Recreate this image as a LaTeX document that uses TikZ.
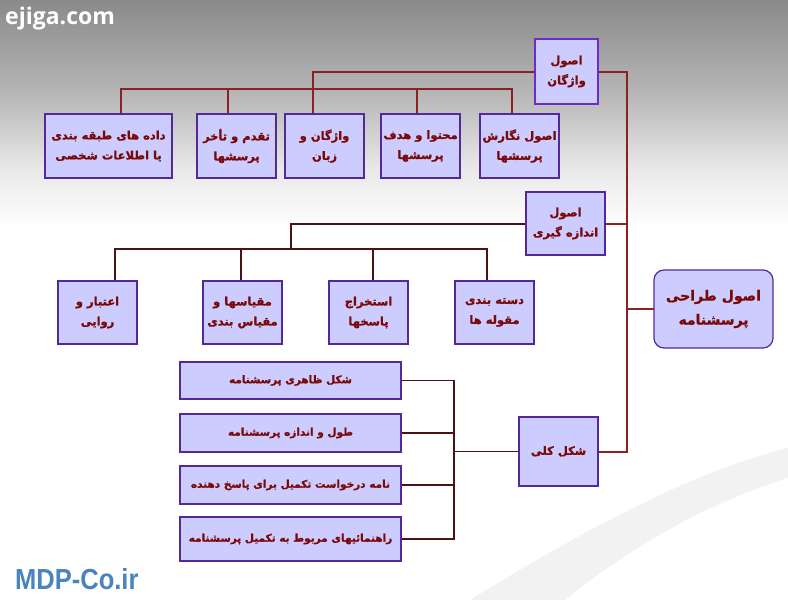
\documentclass[tikz,border=0pt]{standalone}
\usepackage{fontspec}
\usetikzlibrary{positioning,calc,backgrounds}
\newfontfamily\farsi[Script=Arabic, BoldFeatures={FakeBold=1.2}]{DejaVu Sans}
\newfontfamily\wmfont{Open Sans}
\newfontfamily\mdpfont{Liberation Sans}
\TeXXeTstate=1
\newcommand{\fa}[1]{\beginR #1\endR}
\definecolor{boxfill}{HTML}{CCCCFF}
\definecolor{boxline}{HTML}{55289A}
\definecolor{headline}{HTML}{6A2BD0}
\definecolor{txtred}{HTML}{7A0A0A}
\definecolor{linkred}{HTML}{8B2222}
\definecolor{linkdark}{HTML}{4A1414}
\definecolor{mdpblue}{HTML}{4A84BE}
\pgfdeclareverticalshading{bgshade}{100bp}{color(0bp)=(white); color(56bp)=(white); color(61bp)=(black!9); color(67bp)=(black!28); color(75bp)=(black!46); color(100bp)=(black!46)}

\begin{document}
\begin{tikzpicture}[x=1pt, y=-1pt,
  box/.style={draw=boxline, line width=1.8pt, fill=boxfill, text=txtred, align=center, inner sep=0pt,
    font=\farsi\bfseries\fontsize{11.5}{20}\selectfont, minimum width=79pt, minimum height=64pt},
  headbox/.style={box, draw=headline, line width=2.8pt, minimum width=63pt, minimum height=65pt},
  widebox/.style={box, minimum width=221pt, font=\farsi\bfseries\fontsize{10.5}{18}\selectfont},
  titlebox/.style={box, line width=1.2pt, rounded corners=10pt, minimum width=119pt, minimum height=78pt,
    font=\farsi\bfseries\fontsize{14}{24}\selectfont},
  link/.style={draw=linkred, line width=2pt, line cap=rect},
  dlink/.style={link, draw=linkdark},
  thinlink/.style={link, draw=linkdark, line width=1.6pt}]

  \useasboundingbox (0,0) rectangle (788,600);

  % top group
  \node[headbox] (vaj) at (566.5,71.5) {\fa{اصول}\\\fa{واژگان}};
  \node[box, minimum width=127pt] (dA) at (108.5,146) {\fa{داده های طبقه بندی}\\\fa{یا  اطلاعات شخصی}};
  \node[box] (dB) at (236.5,146) {\fa{تقدم و تأخر}\\\fa{پرسشها}};
  \node[box] (dC) at (324.5,146) {\fa{واژگان و}\\\fa{زبان}};
  \node[box] (dD) at (420.5,146) {\fa{محتوا و هدف}\\\fa{پرسشها}};
  \node[box] (dE) at (519.5,146) {\fa{اصول نگارش}\\\fa{پرسشها}};

  % measurement group
  \node[box, minimum height=63pt] (andaz) at (565.5,223.5) {\fa{اصول}\\\fa{اندازه گیری}};
  \node[box, minimum height=63pt] (r1) at (97.5,312.5) {\fa{اعتبار و}\\\fa{روایی}};
  \node[box, minimum height=63pt] (r2) at (242.5,312.5) {\fa{مقیاسها و}\\\fa{مقیاس بندی}};
  \node[box, minimum height=63pt] (r3) at (368.5,312.5) {\fa{استخراج}\\\fa{پاسخها}};
  \node[box, minimum height=63pt] (r4) at (494.5,312.5) {\fa{دسته بندی}\\\fa{مقوله ها}};

  \node[titlebox] (title) at (713.5,309) {\fa{اصول طراحی}\\\fa{پرسشنامه}};

  % form group
  \node[box, minimum height=69pt] (kolli) at (558.5,451.5) {\fa{شکل کلی}};
  \node[widebox, minimum height=37pt] (L1) at (290.5,380.5) {\fa{شکل ظاهری پرسشنامه}};
  \node[widebox, minimum height=38pt] (L2) at (290.5,433) {\fa{طول و اندازه پرسشنامه}};
  \node[widebox, minimum height=38pt] (L3) at (290.5,485) {\fa{نامه درخواست تکمیل برای پاسخ دهنده}};
  \node[widebox, minimum height=44pt] (L4) at (290.5,539) {\fa{راهنمائیهای مربوط به تکمیل پرسشنامه}};

  \node[text=white, font=\wmfont\bfseries\fontsize{23}{23}\selectfont, anchor=west, inner sep=0pt] (wm1) at (5,19) {ejiga.com};
  \node[text=mdpblue, font=\mdpfont\bfseries\fontsize{29}{29}\selectfont, anchor=west, inner sep=0pt,
    xscale=0.88, transform shape] (wm2) at (15,579) {MDP-Co.ir};

  \coordinate (bus1) at (0,89);
  \coordinate (bus2) at (291,249);
  \coordinate (bus3) at (454,0);
  \coordinate (spine) at (627,0);

  \begin{scope}[on background layer]
    \shade[shading=bgshade] (0,0) rectangle (788,600);
    \fill[black!5] (470,600) .. controls (600,520) and (700,470) .. (788,448) -- (788,478) .. controls (700,505) and (620,555) .. (565,600) -- cycle;

    \draw[link] (vaj.west) -| ([xshift=-11.5pt]dC.north);
    \draw[link] ([xshift=12.5pt]dA.north |- bus1) -- ([xshift=-7.5pt]dE.north |- bus1);
    \foreach \n/\d in {dA/12.5, dB/-8.5, dD/-3.5, dE/-7.5}
      \draw[link] ([xshift=\d pt]\n.north) -- ([xshift=\d pt]\n.north |- bus1);

    \draw[link] (vaj.east) -| (spine |- kolli.east) -- (kolli.east);
    \draw[link] (andaz.east) -- (andaz.east -| spine);
    \draw[link] (title.west) -- (title.west -| spine);

    \draw[dlink] (andaz.west) -| (bus2);
    \draw[dlink] ([xshift=17.5pt]r1.north |- bus2) -- ([xshift=-7.5pt]r4.north |- bus2);
    \foreach \n/\d in {r1/17.5, r2/-1.5, r3/4.5, r4/-7.5}
      \draw[dlink] ([xshift=\d pt]\n.north) -- ([xshift=\d pt]\n.north |- bus2);

    \draw[thinlink] (kolli.west) -- (kolli.west -| bus3);
    \foreach \n in {L1,L2,L3,L4}
      \draw[thinlink] (\n.east) -- (\n.east -| bus3);
    \draw[thinlink] (L1.east -| bus3) -- (L4.east -| bus3);
  \end{scope}

\end{tikzpicture}
\end{document}
